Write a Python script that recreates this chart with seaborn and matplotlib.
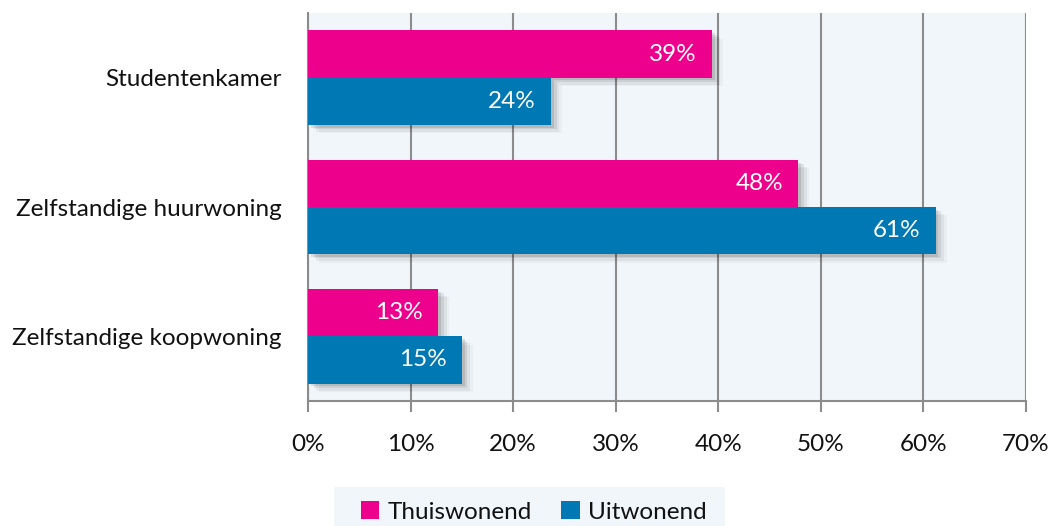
import matplotlib
matplotlib.use("Agg")
import matplotlib.pyplot as plt
import matplotlib.patheffects as pe
from matplotlib.patches import Rectangle, Patch
import seaborn as sns
import pandas as pd

categories = ["Studentenkamer", "Zelfstandige huurwoning", "Zelfstandige koopwoning"]
series_names = ["Thuiswonend", "Uitwonend"]
thuiswonend = [39.4, 47.8, 12.7]
uitwonend = [23.7, 61.2, 15.0]
labels_thuis = ["39%", "48%", "13%"]
labels_uit = ["24%", "61%", "15%"]
xticks = [0, 10, 20, 30, 40, 50, 60, 70]
colors = ["#EC008C", "#0078B4"]

df = pd.DataFrame({
    "cat": categories * 2,
    "serie": [series_names[0]] * 3 + [series_names[1]] * 3,
    "val": thuiswonend + uitwonend,
})

sns.set_theme(style="white")
plt.rcParams["font.family"] = ["Lato", "DejaVu Sans"]
FS = 17.5
TXT = "#111111"

fig = plt.figure(figsize=(10.5, 5.26), dpi=100)
ax = fig.add_axes([0.2933, 0.2376, 0.6838, 0.7377])
ax.set_facecolor("#F1F6FA")

shadow = [pe.SimplePatchShadow(offset=(2, -2), shadow_rgbFace="black", alpha=0.10),
          pe.SimplePatchShadow(offset=(4, -3), shadow_rgbFace="black", alpha=0.08),
          pe.SimplePatchShadow(offset=(6, -5), shadow_rgbFace="black", alpha=0.05),
          pe.SimplePatchShadow(offset=(8, -6), shadow_rgbFace="black", alpha=0.03),
          pe.Normal()]

sns.barplot(data=df, y="cat", x="val", hue="serie", orient="h",
            palette=colors, width=0.73, saturation=1, ax=ax, legend=False,
            errorbar=None, zorder=3)
for p in ax.patches:
    p.set_path_effects(shadow)
    p.set_linewidth(0)

ax.set_xlim(0, 70)
ax.set_xticks(xticks)
ax.set_xticklabels([f"{t}%" for t in xticks], fontsize=FS)
ax.tick_params(axis="x", length=8, width=1.5, color="#8C8C8C", pad=16, direction="out",
               bottom=True, labelcolor=TXT)
ax.tick_params(axis="y", length=0, labelsize=FS, pad=19, labelcolor=TXT)
ax.set_xlabel("")
ax.set_ylabel("")
ax.xaxis.grid(True, color="#8C8C8C", linewidth=1.5, zorder=0)
ax.set_axisbelow(True)
for s in ["top", "right"]:
    ax.spines[s].set_visible(False)
for s in ["left", "bottom"]:
    ax.spines[s].set_color("#8C8C8C")
    ax.spines[s].set_linewidth(1.5)

# value labels
containers = ax.containers
for cont, labs in zip(containers, [labels_thuis, labels_uit]):
    for bar, lab in zip(cont, labs):
        ax.annotate(lab, xy=(bar.get_width(), bar.get_y() + bar.get_height() / 2),
                    xytext=(-11, 0), textcoords="offset points",
                    ha="right", va="center", color="white", fontsize=FS, zorder=5)

# legend background
fig.patches.append(Rectangle((334 / 1050, 0), (725 - 334) / 1050, 39 / 526,
                             transform=fig.transFigure, facecolor="#F1F6FA",
                             edgecolor="none", zorder=0))
handles = [Patch(facecolor=c, edgecolor="none") for c in colors]
leg = fig.legend(handles, series_names, loc="center", bbox_to_anchor=(534 / 1050, 14 / 526),
                 ncol=2, frameon=False, fontsize=FS, handlelength=0.75, handleheight=0.75,
                 handletextpad=0.35, columnspacing=1.2)
for t in leg.get_texts():
    t.set_color(TXT)

fig.savefig("out.png", dpi=100)
